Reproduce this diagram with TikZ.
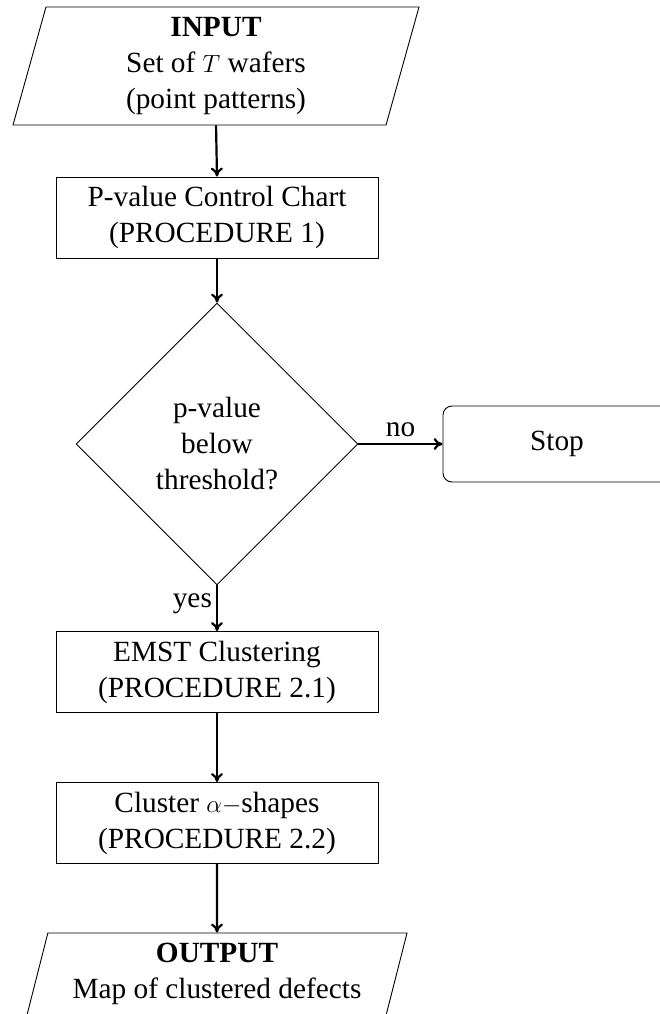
\documentclass[tikz,border=0pt]{standalone}
\usepackage{fontspec}
\setmainfont{Liberation Serif}
\usetikzlibrary{shapes.geometric,arrows.meta}
\tikzset{
  every node/.style={font=\fontsize{29.3pt}{36pt}\selectfont, align=center, inner sep=0pt},
  procbox/.style={draw, line width=0.9pt, rectangle, minimum width=322pt, minimum height=81pt},
  iobox/.style={draw, line width=0.9pt, trapezium, trapezium left angle=71.3, trapezium right angle=108.7, trapezium stretches body},
  decbox/.style={draw, line width=0.9pt, diamond, minimum width=282pt, minimum height=282pt},
  stopbox/.style={draw, line width=0.9pt, rectangle, rounded corners=9pt, minimum width=228pt, minimum height=76pt},
  flow/.style={-{To[length=9pt, width=12pt, line width=2.2pt]}, line width=2.2pt},
}
\begin{document}
\begin{tikzpicture}[x=1pt, y=-1pt]
\useasboundingbox (0,0) rectangle (659,1014);
\node[iobox, minimum width=406pt, minimum height=118pt] (in) at (216,66) {\textbf{INPUT}\\Set of $T$ wafers\\(point patterns)};
\node[procbox] (b1) at (217,217.5) {P-value Control Chart\\(PROCEDURE 1)};
\node[decbox] (dec) at (217,444) {p-value\\below\\threshold?};
\node[stopbox] (stop) at (557,444) {Stop};
\node[procbox] (b2) at (217,672) {EMST Clustering\\(PROCEDURE 2.1)};
\node[procbox] (b3) at (217,823) {Cluster $\alpha-$shapes\\(PROCEDURE 2.2)};
\node[iobox, minimum width=380pt, minimum height=82pt] (out) at (217,974) {\textbf{OUTPUT}\\Map of clustered defects};
\draw[flow] (in.south) -- (b1.north);
\draw[flow] (b1.south) -- (dec.north);
\draw[flow] (dec.east) -- node[above=6pt] {no} (stop.west);
\draw[flow] (dec.south) -- node[pos=0.4, left=4pt] {yes} (b2.north);
\draw[flow] (b2.south) -- (b3.north);
\draw[flow] (b3.south) -- (out.north);
\end{tikzpicture}
\end{document}
